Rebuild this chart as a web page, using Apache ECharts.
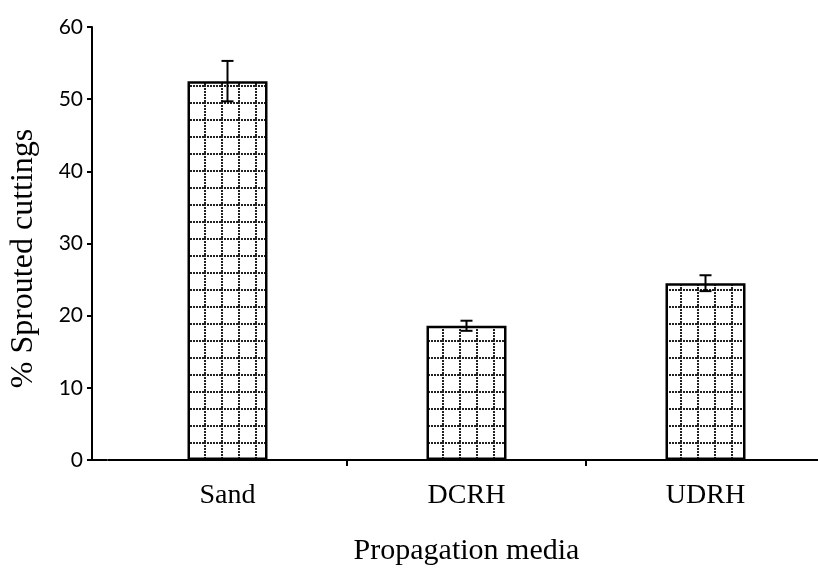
<!DOCTYPE html>
<html>
<head>
<meta charset="utf-8">
<script src="https://cdn.jsdelivr.net/npm/echarts@6/dist/echarts.min.js"></script>
<style>
  html, body { margin: 0; padding: 0; background: #fff; overflow: hidden; }
  #chart { width: 832px; height: 577px; }
</style>
</head>
<body>
<div id="chart"></div>
<script>
// Sprouting percentage of cuttings by propagation medium (mean ± error)
const categories = ['Sand', 'DCRH', 'UDRH'];
const sprouted = [52.5, 18.6, 24.5];
const errors = [2.8, 0.7, 1.1];
const yTicks = [0, 10, 20, 30, 40, 50, 60];

// Dotted grid fill used inside the bars
function gridPattern() {
  const size = 17;
  const c = document.createElement('canvas');
  c.width = size; c.height = size;
  const g = c.getContext('2d');
  g.fillStyle = '#ffffff';
  g.fillRect(0, 0, size, size);
  g.fillStyle = '#222222';
  for (let i = 0; i < size; i += 3) {
    g.fillRect(i, 0, 2, 2);
    g.fillRect(0, i, 2, 2);
  }
  return c;
}

const chart = echarts.init(document.getElementById('chart'));

const option = {
  animation: false,
  backgroundColor: '#ffffff',
  grid: { left: 107, top: 27, bottom: 117, width: 718, containLabel: false },
  xAxis: {
    type: 'category',
    data: categories,
    boundaryGap: true,
    name: 'Propagation media',
    nameLocation: 'middle',
    nameGap: 76,
    nameTextStyle: { fontFamily: 'Liberation Serif', fontSize: 30, color: '#000' },
    axisLine: { lineStyle: { color: '#000', width: 2 } },
    axisTick: { show: true, length: 6, lineStyle: { color: '#000', width: 2 },
                interval: function (i) { return i > 0 && i < categories.length; } },
    axisLabel: { margin: 22, fontFamily: 'Liberation Serif', fontSize: 28, color: '#000' },
    splitLine: { show: false }
  },
  yAxis: {
    type: 'value',
    min: yTicks[0],
    max: yTicks[yTicks.length - 1],
    interval: 10,
    offset: 16,
    name: '% Sprouted cuttings',
    nameLocation: 'middle',
    nameRotate: 90,
    nameGap: 52,
    nameTextStyle: { fontFamily: 'Liberation Serif', fontSize: 32, color: '#000', padding: [0, 30, 0, 0] },
    axisLine: { show: true, lineStyle: { color: '#000', width: 2 } },
    axisTick: { show: true, length: 5, lineStyle: { color: '#000', width: 2 } },
    axisLabel: { margin: 9, fontFamily: 'Lato', fontSize: 21, color: '#000' },
    splitLine: { show: false }
  },
  series: [
    {
      type: 'bar',
      data: sprouted,
      barWidth: 80,
      itemStyle: {
        color: { image: gridPattern(), repeat: 'repeat' },
        borderColor: '#000',
        borderWidth: 2.5
      }
    },
    {
      type: 'custom',
      data: sprouted.map((v, i) => [i, v, errors[i]]),
      z: 5,
      renderItem: function (params, api) {
        const x = api.value(0);
        const v = api.value(1);
        const e = api.value(2);
        const top = api.coord([x, v + e]);
        const bot = api.coord([x, v - e]);
        const cap = 6;
        const style = { stroke: '#000', lineWidth: 2 };
        return {
          type: 'group',
          children: [
            { type: 'line', shape: { x1: top[0], y1: top[1], x2: bot[0], y2: bot[1] }, style: style },
            { type: 'line', shape: { x1: top[0] - cap, y1: top[1], x2: top[0] + cap, y2: top[1] }, style: style },
            { type: 'line', shape: { x1: bot[0] - cap, y1: bot[1], x2: bot[0] + cap, y2: bot[1] }, style: style }
          ]
        };
      }
    }
  ]
};

chart.setOption(option);

// Join the offset value axis to the start of the category axis line
const origin = chart.convertToPixel({ gridIndex: 0 }, [0, 0]);
const gridLeft = option.grid.left;
chart.setOption({
  graphic: [{
    type: 'line',
    shape: { x1: gridLeft - option.yAxis.offset, y1: origin[1], x2: gridLeft, y2: origin[1] },
    style: { stroke: '#000', lineWidth: 2 }
  }]
});
</script>
</body>
</html>
